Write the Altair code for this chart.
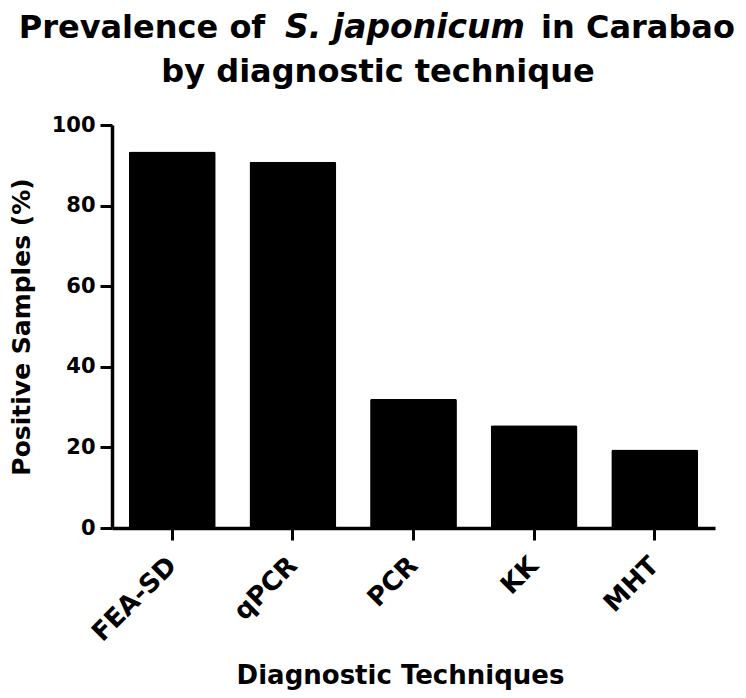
import altair as alt
import pandas as pd

# ---- data ----
techniques = ["FEA-SD", "qPCR", "PCR", "KK", "MHT"]
positive_pct = [93.4, 90.9, 32.1, 25.5, 19.5]
y_ticks = [0, 20, 40, 60, 80, 100]

title_line1 = ["Prevalence of", "S. japonicum", "in Carabao"]
title_line2 = ["by diagnostic technique"]

df = pd.DataFrame({"technique": techniques, "pct": positive_pct})

FONT = "DejaVu Sans"

bars = alt.Chart(df).mark_bar(
    color="black", cornerRadiusTopLeft=2, cornerRadiusTopRight=2
).encode(
    x=alt.X(
        "technique:N",
        sort=techniques,
        scale=alt.Scale(paddingInner=0.28, paddingOuter=0.14),
        axis=alt.Axis(
            title="Diagnostic Techniques",
            labelAngle=-45, labelAlign="right", labelBaseline="middle",
            labelFont=FONT, labelFontSize=26, labelFontWeight="bold", labelColor="black",
            labelPadding=21, tickSize=12, tickWidth=3, tickColor="black",
            domainColor="black", domainWidth=3.5, grid=False,
            titleFont=FONT, titleFontSize=26, titleFontWeight="bold", titleColor="black",
            titleX=288, titleY=155, titleAlign="center", titleBaseline="alphabetic",
        ),
    ),
    y=alt.Y(
        "pct:Q",
        scale=alt.Scale(domain=[0, 100], nice=False),
        axis=alt.Axis(
            title="Positive Samples (%)", values=y_ticks,
            labelFont=FONT, labelFontSize=21, labelFontWeight="bold", labelColor="black",
            labelPadding=5, tickSize=12, tickWidth=3, tickColor="black",
            domainColor="black", domainWidth=3.5, grid=False,
            titleFont=FONT, titleFontSize=25, titleFontWeight="bold", titleColor="black",
            titleX=-83, titleY=201.5, titleAngle=270, titleAlign="center",
            titleBaseline="alphabetic",
        ),
    ),
)

def title_piece(text, x, y, align, size, style="normal"):
    return alt.Chart(pd.DataFrame({"t": [text]})).mark_text(
        font=FONT, fontSize=size, fontWeight="bold", fontStyle=style,
        align=align, baseline="alphabetic", color="black",
    ).encode(x=alt.value(x), y=alt.value(y), text="t:N")

t1 = title_piece(title_line1[0], 30, -87, "center", 32)
t2 = title_piece(title_line1[1], 293, -87, "center", 33, "italic")
t3 = title_piece(title_line1[2], 526, -87, "center", 32)
t4 = title_piece(title_line2[0], 266, -43, "center", 32)

chart = alt.layer(bars, t1, t2, t3, t4).properties(
    width=603, height=403,
    autosize=alt.AutoSizeParams(type="none"),
    padding={"left": 104, "top": 117, "right": 23, "bottom": 165},
).configure_view(stroke=None)

chart.save("out.html", embed_options={"renderer": "svg", "actions": False})
